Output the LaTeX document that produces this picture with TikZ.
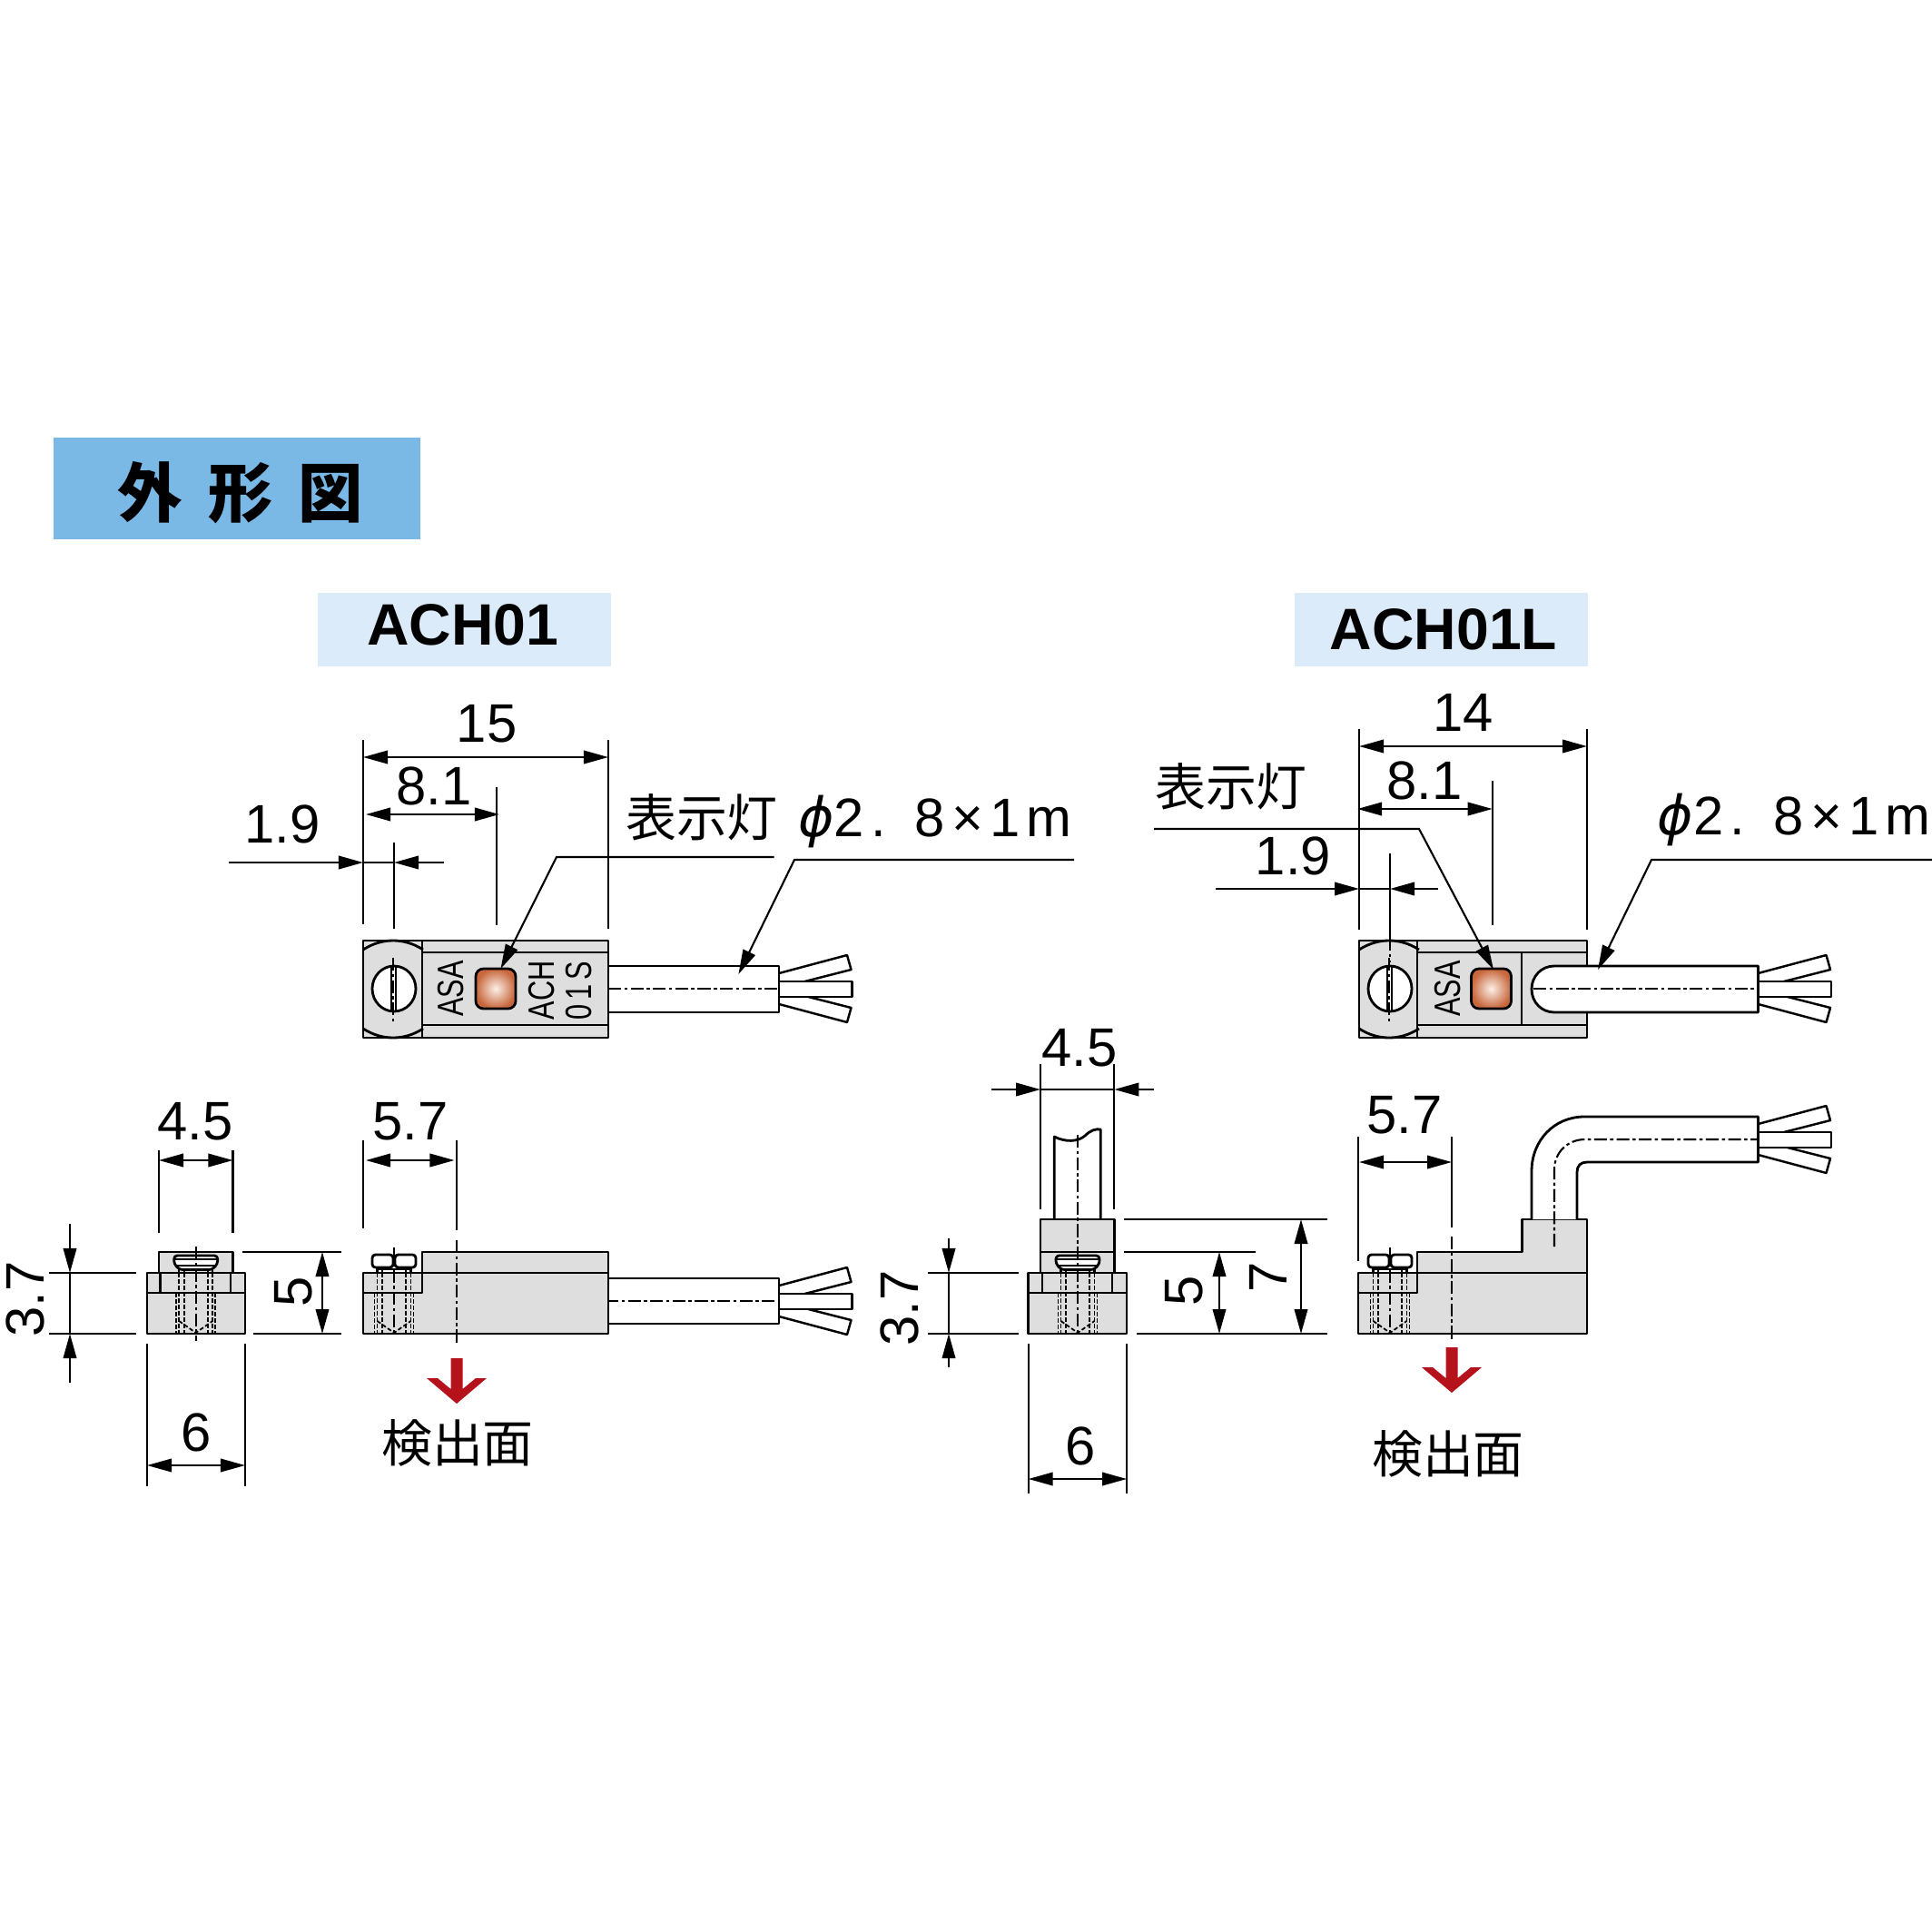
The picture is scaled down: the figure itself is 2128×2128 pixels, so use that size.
\documentclass[tikz,border=0pt]{standalone}
\usepackage{fontspec}
\setmainfont{Liberation Sans}
\newfontfamily\cjk{Noto Sans CJK JP}
\newfontfamily\phifont{DejaVu Sans}
\usetikzlibrary{arrows.meta}
\definecolor{bodygrey}{HTML}{DEDEDE}
\definecolor{titleblue}{HTML}{7AB8E6}
\definecolor{tagblue}{HTML}{DCEBFA}
\definecolor{markred}{HTML}{B5121B}
\definecolor{ledbrown}{HTML}{C8673C}
\definecolor{ledglow}{HTML}{FCF0E8}
\begin{document}
\begin{tikzpicture}[x=0.01cm,y=-0.01cm]
    \tikzstyle{outline}=[draw=black, line width=0.8pt, line join=round]
    \tikzstyle{thinline}=[draw=black, line width=0.6pt]
    \tikzstyle{axisline}=[draw=black, line width=0.6pt, dash pattern=on 4pt off 1pt on 1pt off 1pt]
    \tikzstyle{holeline}=[draw=black, line width=0.5pt, dash pattern=on 1.3pt off 0.7pt]
    \tikzstyle{dimline}=[draw=black, line width=0.6pt,
                            >={Triangle[length=2.7mm,width=1.45mm]}]
    \tikzstyle{dimtext}=[inner sep=0pt, font=\fontsize{17}{20}\selectfont]
    \tikzstyle{jptext}=[inner sep=0pt, font=\cjk\fontsize{15.9}{18}\selectfont]
    \tikzstyle{tagtext}=[inner sep=0pt, font=\bfseries\fontsize{18.3}{22}\selectfont]
    \tikzstyle{marktext}=[inner sep=0pt, rotate=90, font=\fontsize{11.5}{13}\selectfont]
    \useasboundingbox (0,0) rectangle (2128,2128);

    % title and tags
    \fill[titleblue] (59,482) rectangle (463,594);
    \node[inner sep=0pt, font=\cjk\bfseries\fontsize{20.3}{24}\selectfont] (title) at (265,543)
        {外\hspace{8pt}形\hspace{8pt}図};
    \fill[tagblue] (350,653) rectangle (673,734);
    \node[tagtext] (tagA) at (510,688) {ACH01};
    \fill[tagblue] (1426,653) rectangle (1749,734);
    \node[tagtext] (tagB) at (1590,693) {ACH01L};

    % top views
    \path[outline, fill=bodygrey] (400,1036) rectangle (670,1143);
    \path[outline, fill=bodygrey] (1497,1036) rectangle (1748,1143);
    \draw[outline] (465,1036) -- (465,1143)
                   (465,1049) -- (670,1049)
                   (465,1129) -- (670,1129);
    \draw[outline] (1561,1036) -- (1561,1143)
                   (1561,1049) -- (1748,1049)
                   (1561,1129) -- (1748,1129)
                   (1676,1049) -- (1676,1129);
    \foreach \tx in {433,1530} {
        \draw[outline] (\tx-33,1046) .. controls (\tx-22,1039) and (\tx-11,1036) .. (\tx,1036)
                       .. controls (\tx+11,1036) and (\tx+22,1039) .. (\tx+33,1046);
        \draw[outline] (\tx-33,1133) .. controls (\tx-22,1140) and (\tx-11,1143) .. (\tx,1143)
                       .. controls (\tx+11,1143) and (\tx+22,1140) .. (\tx+33,1133);
        \path[outline, fill=white] (\tx+1,1089) ellipse (24 and 25);
        \draw[thinline] (\tx-2,1065) -- (\tx-2,1113)
                        (\tx+3,1065) -- (\tx+3,1113);
        \draw[axisline] (\tx,1055) -- (\tx,1125);
    }
    \foreach \lx in {546,1642.5}
        \shade[inner color=ledglow, outer color=ledbrown, draw=black, line width=0.8pt, rounded corners=2.4pt]
            (\lx-22,1067) rectangle (\lx+22,1111);
    \node[marktext] (asaA) at (497,1089) {\scalebox{0.76}[1]{ASA}};
    \node[marktext] (asaB) at (1595,1089) {\scalebox{0.76}[1]{ASA}};
    \node[marktext] (achA) at (597,1091) {\scalebox{0.76}[1]{ACH}};
    \node[marktext] (serA) at (638,1091) {\scalebox{0.76}[1]{0\,1\,S}};

    % cables
    \path[outline, fill=white] (670,1064) rectangle (858,1115);
    \path[outline, fill=white] (1936.5,1064) -- (1712,1064)
        .. controls (1698,1064) and (1687,1075) .. (1687,1089.5)
        .. controls (1687,1104) and (1698,1115) .. (1712,1115) -- (1936.5,1115) -- cycle;
    \path[outline, fill=white] (670,1408) rectangle (858,1458);
    \draw[axisline] (670,1089) -- (865,1089);
    \draw[axisline] (1689,1089) -- (1944,1089);
    \draw[axisline] (667,1433) -- (858,1433);

    % side views
    \path[outline, fill=bodygrey] (400,1469) -- (400,1402) -- (465,1402) -- (465,1379)
        -- (670,1379) -- (670,1469) -- cycle;
    \draw[outline] (465,1402) -- (670,1402) (400,1424) -- (465,1424) -- (465,1402);
    \path[outline, fill=bodygrey] (1496,1469) -- (1496,1402) -- (1561,1402) -- (1561,1379)
        -- (1676.5,1379) -- (1676.5,1343) -- (1748,1343) -- (1748,1469) -- cycle;
    \draw[outline] (1561,1402) -- (1748,1402) (1496,1424) -- (1561,1424) -- (1561,1402);
    \path[outline, fill=white] (1687,1343) -- (1687,1290)
        .. controls (1687,1256) and (1712,1230) .. (1745,1230) -- (1936.5,1230) -- (1936.5,1280)
        -- (1748,1280) .. controls (1741,1280) and (1737,1284) .. (1737,1291) -- (1737,1343);
    \draw[axisline] (1712,1373) -- (1712,1288)
        .. controls (1712,1270) and (1726,1255) .. (1746,1255) -- (1936.5,1255);

    % front views
    \path[outline, fill=bodygrey] (175,1402) -- (175,1379) -- (256.5,1379) -- (256.5,1402);
    \path[outline, fill=bodygrey] (162,1402) rectangle (270,1469);
    \draw[outline] (162,1424) -- (270,1424) (176.5,1402) -- (176.5,1424) (254,1402) -- (254,1424);
    \path[outline, fill=white] (1161.3,1343) -- (1161.3,1252)
        .. controls (1173,1258) and (1187,1258) .. (1195,1251)
        .. controls (1201,1245) and (1207,1243) .. (1212.3,1244) -- (1212.3,1343);
    \path[outline, fill=bodygrey] (1146,1402) -- (1146,1343) -- (1227.3,1343) -- (1227.3,1402);
    \draw[outline] (1146,1379) -- (1227.3,1379);
    \path[outline, fill=bodygrey] (1132.7,1402) rectangle (1241,1469);
    \draw[outline] (1132.7,1424) -- (1241,1424) (1148,1402) -- (1148,1424) (1225,1402) -- (1225,1424);

    % screw shafts
    \foreach \sx in {215.7,434,1187,1531} {
        \draw[thinline] (\sx-18.5,1397) -- (\sx-18.5,1402) (\sx-13,1397) -- (\sx-13,1402)
                        (\sx+13,1397) -- (\sx+13,1402) (\sx+18.5,1397) -- (\sx+18.5,1402);
        \draw[holeline] (\sx-18.5,1402) -- (\sx-18.5,1469) (\sx-13,1402) -- (\sx-13,1469)
                        (\sx+13,1402) -- (\sx+13,1469) (\sx+18.5,1402) -- (\sx+18.5,1469)
                        (\sx-21.5,1424) -- (\sx-21.5,1469) (\sx+21.5,1424) -- (\sx+21.5,1469);
        \draw[holeline] (\sx-18.5,1455) -- (\sx,1468) -- (\sx+18.5,1455);
    }
    % screw heads, front
    \foreach \sx in {215.7,1187} {
        \path[outline, fill=white, rounded corners=1pt] (\sx-24,1383) -- (\sx+24,1383) -- (\sx+24,1392)
            -- (\sx+18,1398.5) -- (\sx-18,1398.5) -- (\sx-24,1392) -- cycle;
        \draw[thinline] (\sx-24,1387) -- (\sx+24,1387) (\sx-22,1394) -- (\sx+22,1394);
    }
    % screw heads, side
    \foreach \sx in {434,1531} {
        \path[outline, fill=white, rounded corners=1pt] (\sx-24,1382) rectangle (\sx-1,1396);
        \path[outline, fill=white, rounded corners=1pt] (\sx+1,1382) rectangle (\sx+24,1396);
        \draw[thinline] (\sx-19,1398) -- (\sx+19,1398);
    }
    % axes of the screws
    \draw[axisline] (215.7,1373) -- (215.7,1477);
    \draw[axisline] (434,1374) -- (434,1468);
    \draw[axisline] (1187,1250) -- (1187,1468);
    \draw[axisline] (1531,1374) -- (1531,1468);
    \draw[axisline] (503,1366) -- (503,1479);
    \draw[axisline] (1599,1362) -- (1599,1476);

    % wire ends
    \foreach \wx/\wy in {858/1089, 1936.5/1089, 858/1433, 1936.5/1255} {
        \path[outline, line width=0.7pt, fill=white] (\wx,\wy-17) -- (\wx+75,\wy-37) -- (\wx+79.5,\wy-21) -- (\wx+28.5,\wy-8);
        \path[outline, line width=0.7pt, fill=white] (\wx,\wy+17) -- (\wx+75,\wy+37) -- (\wx+79.5,\wy+21) -- (\wx+28.5,\wy+8);
        \path[outline, line width=0.7pt, fill=white] (\wx,\wy-8) rectangle (\wx+80.5,\wy+9);
    }

    % extension lines
    \foreach \ex/\ea/\eb in {400/815/1018, 670/815/1023, 546.7/867/1019, 434/928/1023,
                             400/1256/1353, 503/1256/1355, 175/1267/1358, 256.5/1267/1358,
                             162/1480/1637, 270/1480/1637,
                             1497/803/1024, 1748/803/1024, 1643.7/860/1019, 1531/940/1033,
                             1496/1252/1389, 1599/1252/1352,
                             1146/1172/1332, 1227.3/1172/1332, 1132.7/1480/1645, 1241/1480/1645}
        \draw[thinline] (\ex,\ea) -- (\ex,\eb);
    \foreach \ea/\eb/\ey in {267/376/1379, 279/376/1469, 54/150/1402, 54/150/1469,
                             1022/1122/1402, 1022/1122/1469, 1238/1383/1379,
                             1238/1462/1343, 1252/1462/1469}
        \draw[thinline] (\ea,\ey) -- (\eb,\ey);
    \draw[axisline] (1531,1033) -- (1531,1060);

    % dimensions
    \foreach \xa/\xb/\dy in {400/670/834, 403/550/897, 175/256.5/1278, 403/500.5/1278, 162/270/1614,
                             1497/1748/822, 1495/1643.7/891, 1497/1599/1280, 1132.7/1241/1629}
        \draw[dimline, <->] (\xa,\dy) -- (\xb,\dy);
    \foreach \dx/\ya/\yb in {355/1379/1469, 1343/1379/1469, 1433/1343/1469}
        \draw[dimline, <->] (\dx,\ya) -- (\dx,\yb);
    \foreach \xa/\xb/\xc/\xd/\dy in {252/400/434/489/950, 1339/1497/1531/1584/979, 1092/1146/1227.3/1271/1200} {
        \draw[dimline, ->] (\xa,\dy) -- (\xb,\dy);
        \draw[dimline, ->] (\xd,\dy) -- (\xc,\dy);
        \draw[dimline] (\xb,\dy) -- (\xc,\dy);
    }
    \foreach \dx/\ya/\yb in {77/1348/1523, 1045/1364/1506} {
        \draw[dimline, ->] (\dx,\ya) -- (\dx,1402);
        \draw[dimline, ->] (\dx,\yb) -- (\dx,1469);
        \draw[dimline] (\dx,1402) -- (\dx,1469);
    }

    % leaders
    \coordinate (ledA) at (551.5,1067);
    \coordinate (ledB) at (1645,1068);
    \coordinate (wireA) at (813.4,1073);
    \coordinate (wireB) at (1760,1068);
    \draw[dimline, ->] (852.5,944) -- (613,944) -- (ledA);
    \draw[dimline, ->] (1271,913) -- (1563,913) -- (ledB);
    \draw[dimline, ->] (1183,947) -- (875,947) -- (wireA);
    \draw[dimline, ->] (2128,947) -- (1819,947) -- (wireB);

    % red arrows
    \foreach \rx/\ry in {503/1496, 1599/1484}
        \fill[markred] (\rx-6.5,\ry) -- (\rx+6.5,\ry) -- (\rx+6.5,\ry+34) -- (\rx+21,\ry+22) -- (\rx+33,\ry+22)
            -- (\rx,\ry+50) -- (\rx-33,\ry+22) -- (\rx-21,\ry+22) -- (\rx-6.5,\ry+34) -- cycle;

    % labels
    \node[dimtext] (lenA) at (536,797) {15};
    \node[dimtext] (ledposA) at (478,866) {8.1};
    \node[dimtext] (screwA) at (311,908) {1.9};
    \node[jptext] (lampA) at (773,900) {表示灯};
    \node[dimtext] (cableA) at (1030,905) {\addfontfeature{LetterSpace=12}{\phifont\itshape ϕ}2. 8×1m};
    \node[dimtext] (widA) at (215,1235) {4.5};
    \node[dimtext] (sideA) at (452,1235) {5.7};
    \node[dimtext] (baseA) at (216,1578) {6};
    \node[dimtext, rotate=90] (highA) at (323,1423) {5};
    \node[dimtext, rotate=90] (lowA) at (28,1431) {3.7};
    \node[jptext] (faceA) at (504,1589) {検出面};

    \node[dimtext] (lenB) at (1611.6,785) {14};
    \node[dimtext] (ledposB) at (1569,860) {8.1};
    \node[dimtext] (screwB) at (1424.5,943) {1.9};
    \node[jptext] (lampB) at (1356,866) {表示灯};
    \node[dimtext] (cableB) at (1976,903) {\addfontfeature{LetterSpace=12}{\phifont\itshape ϕ}2. 8×1m};
    \node[dimtext] (widB) at (1189,1154) {4.5};
    \node[dimtext] (sideB) at (1546.7,1228) {5.7};
    \node[dimtext] (baseB) at (1190,1593) {6};
    \node[dimtext, rotate=90] (highB) at (1304,1422) {5};
    \node[dimtext, rotate=90] (tallB) at (1397,1407) {7};
    \node[dimtext, rotate=90] (lowB) at (990.5,1441) {3.7};
    \node[jptext] (faceB) at (1595,1601) {検出面};
\end{tikzpicture}
\end{document}
